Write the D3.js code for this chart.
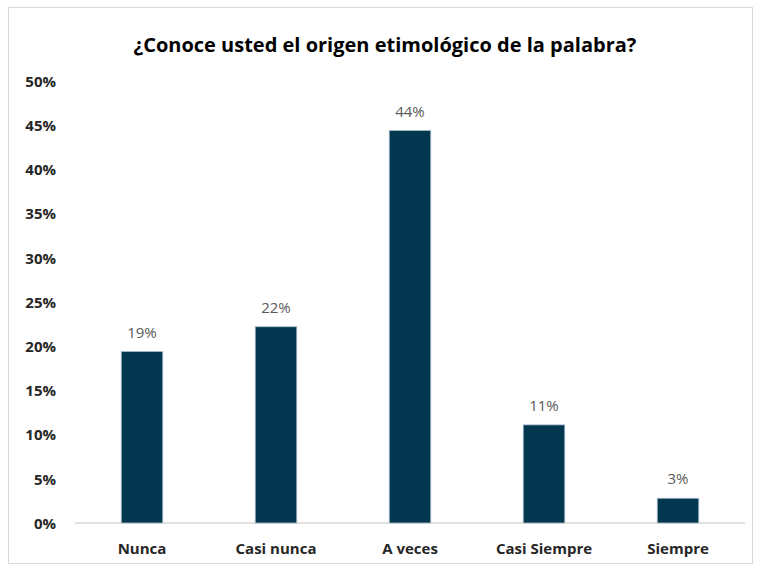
<!DOCTYPE html>
<html lang="en">
<head>
<meta charset="utf-8">
<script src="https://d3js.org/d3.v7.min.js"></script>
<style type="text/css">
body {
	margin: 0;
	background-color: #ffffff;
	font-family: "Open Sans", sans-serif;
}
.axis text {
	font-family: "Open Sans", sans-serif;
	font-weight: bold;
	font-size: 15px;
	fill: #262626;
}
</style>
</head>
<body>
<script type="text/javascript">

// Data
var categories = ["Nunca", "Casi nunca", "A veces", "Casi Siempre", "Siempre"];
var values = [0.194, 0.222, 0.444, 0.111, 0.028];
var valueLabels = ["19%", "22%", "44%", "11%", "3%"];
var yTicks = [0, 0.05, 0.10, 0.15, 0.20, 0.25, 0.30, 0.35, 0.40, 0.45, 0.50];
var title = "¿Conoce usted el origen etimológico de la palabra?";

var width = 757, height = 567;
var barColor = "#03374f";

var svg = d3.select("body").append("svg")
  .attr("width", width)
  .attr("height", height);

// chart frame
svg.append("rect")
  .attr("x", 8.5).attr("y", 7.5)
  .attr("width", 744).attr("height", 556)
  .attr("fill", "#fff")
  .attr("stroke", "#d9d9d9");

svg.append("text")
  .attr("x", 385).attr("y", 52)
  .attr("text-anchor", "middle")
  .style("font-weight", "bold")
  .style("font-size", "20px")
  .style("fill", "#000")
  .text(title);

var x = d3.scaleBand()
  .domain(categories)
  .range([75, 745])
  .paddingInner(0.69)
  .paddingOuter(0.345);

var y = d3.scaleLinear()
  .domain([0, 0.5])
  .range([523, 81]);

// y axis labels
var yAxis = svg.append("g")
  .attr("class", "axis")
  .attr("transform", "translate(60,0)")
  .call(d3.axisLeft(y).tickValues(yTicks).tickFormat(d3.format(".0%")).tickSize(0).tickPadding(4));
yAxis.select(".domain").remove();
yAxis.selectAll("text").attr("dy", "0.35em");

// baseline
svg.append("line")
  .attr("x1", 75).attr("x2", 745)
  .attr("y1", y(0)).attr("y2", y(0))
  .attr("stroke", "#d9d9d9")
  .attr("stroke-width", 1.5);

// bars
svg.selectAll(".bar")
  .data(values)
  .enter().append("rect")
  .attr("class", "bar")
  .attr("x", function(d, i) { return x(categories[i]); })
  .attr("width", x.bandwidth())
  .attr("y", function(d) { return y(d); })
  .attr("height", function(d) { return y(0) - y(d); })
  .attr("fill", barColor)
  .attr("stroke", "#a9bfcc")
  .attr("stroke-width", 0.8);

// value labels
svg.selectAll(".vlabel")
  .data(values)
  .enter().append("text")
  .attr("class", "vlabel")
  .attr("x", function(d, i) { return x(categories[i]) + x.bandwidth() / 2; })
  .attr("y", function(d) { return y(d) - 14; })
  .attr("text-anchor", "middle")
  .style("font-size", "15px")
  .style("fill", "#595959")
  .text(function(d, i) { return valueLabels[i]; });

// x axis labels
var xAxis = svg.append("g")
  .attr("class", "axis")
  .attr("transform", "translate(0," + y(0) + ")")
  .call(d3.axisBottom(x).tickSize(0).tickPadding(20));
xAxis.select(".domain").remove();

</script>
</body>
</html>
